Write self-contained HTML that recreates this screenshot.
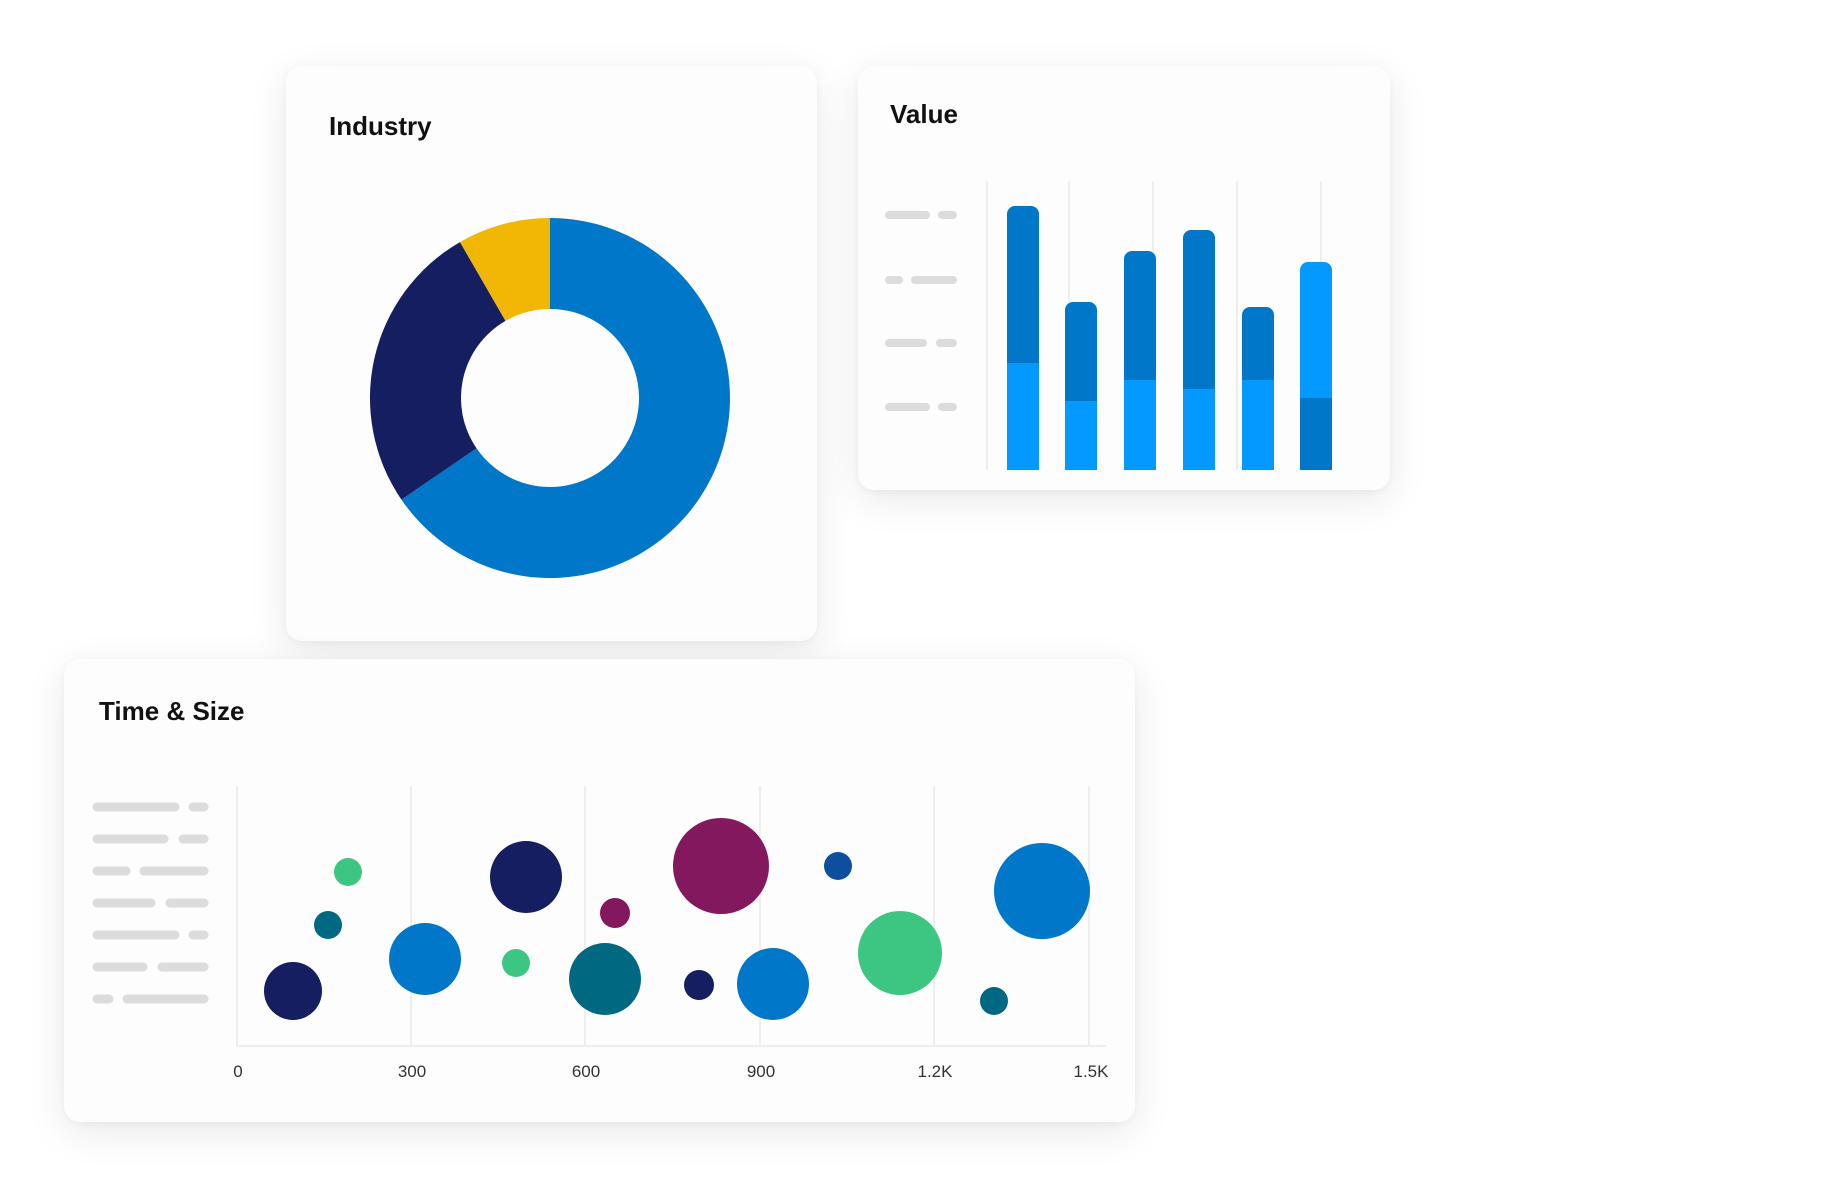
<!DOCTYPE html>
<html><head><meta charset="utf-8"><style>
body{margin:0;width:1830px;height:1186px;background:#fff;position:relative;overflow:hidden;font-family:"Liberation Sans",sans-serif;}
.card{position:absolute;background:#fdfdfd;border-radius:16px;box-shadow:0 10px 40px rgba(0,0,0,0.09),0 2px 8px rgba(0,0,0,0.04);}
.t{position:absolute;font-weight:bold;font-size:26px;color:#111;}
</style></head><body>
<div class="card" style="left:286px;top:66px;width:531px;height:575px"></div>
<div class="card" style="left:858px;top:66px;width:532px;height:424px"></div>
<div class="card" style="left:64px;top:659px;width:1071px;height:463px"></div>
<div class="t" style="left:329px;top:111px">Industry</div>
<div class="t" style="left:890px;top:99px">Value</div>
<div class="t" style="left:99px;top:696px">Time &amp; Size</div>
<svg width="1830" height="1186" style="position:absolute;left:0;top:0">
<g transform="translate(550,398)">
<path d="M0,-180 A180,180 0 1 1 -148.6,101.6 L-73.5,50.2 A89,89 0 1 0 0,-89 Z" fill="#0077c8"/>
<path d="M-148.6,101.6 A180,180 0 0 1 -90,-155.9 L-44.5,-77.1 A89,89 0 0 0 -73.5,50.2 Z" fill="#141e60"/>
<path d="M-90,-155.9 A180,180 0 0 1 0,-180 L0,-89 A89,89 0 0 0 -44.5,-77.1 Z" fill="#f2b705"/>
</g>
<g stroke="#eeeeee" stroke-width="2">
<line x1="987" y1="181" x2="987" y2="470"/><line x1="1069" y1="181" x2="1069" y2="470"/><line x1="1153" y1="181" x2="1153" y2="470"/><line x1="1237" y1="181" x2="1237" y2="470"/><line x1="1321" y1="181" x2="1321" y2="470"/>
</g>
<g stroke="#dcdcdc" stroke-width="8" stroke-linecap="round">
<line x1="889" y1="215" x2="926" y2="215"/><line x1="942" y1="215" x2="953" y2="215"/>
<line x1="889" y1="280" x2="899" y2="280"/><line x1="915" y1="280" x2="953" y2="280"/>
<line x1="889" y1="343" x2="923" y2="343"/><line x1="940" y1="343" x2="953" y2="343"/>
<line x1="889" y1="407" x2="926" y2="407"/><line x1="942" y1="407" x2="953" y2="407"/>
</g>
<g>
<path d="M1007,470 V214 a8,8 0 0 1 8,-8 h16 a8,8 0 0 1 8,8 V470Z" fill="#0077c8"/><rect x="1007" y="363" width="32" height="107" fill="#0399ff"/>
<path d="M1065,470 V310 a8,8 0 0 1 8,-8 h16 a8,8 0 0 1 8,8 V470Z" fill="#0077c8"/><rect x="1065" y="401" width="32" height="69" fill="#0399ff"/>
<path d="M1124,470 V259 a8,8 0 0 1 8,-8 h16 a8,8 0 0 1 8,8 V470Z" fill="#0077c8"/><rect x="1124" y="380" width="32" height="90" fill="#0399ff"/>
<path d="M1183,470 V238 a8,8 0 0 1 8,-8 h16 a8,8 0 0 1 8,8 V470Z" fill="#0077c8"/><rect x="1183" y="389" width="32" height="81" fill="#0399ff"/>
<path d="M1242,470 V315 a8,8 0 0 1 8,-8 h16 a8,8 0 0 1 8,8 V470Z" fill="#0077c8"/><rect x="1242" y="380" width="32" height="90" fill="#0399ff"/>
<path d="M1300,470 V270 a8,8 0 0 1 8,-8 h16 a8,8 0 0 1 8,8 V470Z" fill="#0399ff"/><rect x="1300" y="398" width="32" height="72" fill="#0077c8"/>
</g>
<g stroke="#eeeeee" stroke-width="2">
<line x1="237" y1="786" x2="237" y2="1046"/><line x1="411" y1="786" x2="411" y2="1046"/><line x1="585" y1="786" x2="585" y2="1046"/><line x1="760" y1="786" x2="760" y2="1046"/><line x1="934" y1="786" x2="934" y2="1046"/><line x1="1089" y1="786" x2="1089" y2="1046"/>
<line x1="237" y1="1046" x2="1106" y2="1046"/>
</g>
<g stroke="#dcdcdc" stroke-width="9" stroke-linecap="round">
<line x1="97" y1="807" x2="175" y2="807"/><line x1="193" y1="807" x2="204" y2="807"/>
<line x1="97" y1="839" x2="164" y2="839"/><line x1="183" y1="839" x2="204" y2="839"/>
<line x1="97" y1="871" x2="126" y2="871"/><line x1="144" y1="871" x2="204" y2="871"/>
<line x1="97" y1="903" x2="151" y2="903"/><line x1="170" y1="903" x2="204" y2="903"/>
<line x1="97" y1="935" x2="175" y2="935"/><line x1="193" y1="935" x2="204" y2="935"/>
<line x1="97" y1="967" x2="143" y2="967"/><line x1="162" y1="967" x2="204" y2="967"/>
<line x1="97" y1="999" x2="109" y2="999"/><line x1="127" y1="999" x2="204" y2="999"/>
</g>
<g>
<circle cx="293" cy="991" r="29" fill="#141e60"/>
<circle cx="328" cy="925" r="14" fill="#006880"/>
<circle cx="348" cy="872" r="14" fill="#3dc682"/>
<circle cx="425" cy="959" r="36" fill="#0077c8"/>
<circle cx="516" cy="963" r="14" fill="#3dc682"/>
<circle cx="526" cy="877" r="36" fill="#141e60"/>
<circle cx="615" cy="913" r="15" fill="#83185f"/>
<circle cx="605" cy="979" r="36" fill="#006880"/>
<circle cx="699" cy="985" r="15" fill="#141e60"/>
<circle cx="721" cy="866" r="48" fill="#83185f"/>
<circle cx="773" cy="984" r="36" fill="#0077c8"/>
<circle cx="838" cy="866" r="14" fill="#0d4f9e"/>
<circle cx="900" cy="953" r="42" fill="#3dc682"/>
<circle cx="994" cy="1001" r="14" fill="#006880"/>
<circle cx="1042" cy="891" r="48" fill="#0077c8"/>
</g>
<g font-family="Liberation Sans, sans-serif" font-size="17" fill="#333" text-anchor="middle">
<text x="238" y="1077">0</text><text x="412" y="1077">300</text><text x="586" y="1077">600</text><text x="761" y="1077">900</text><text x="935" y="1077">1.2K</text><text x="1091" y="1077">1.5K</text>
</g>
</svg>
</body></html>
